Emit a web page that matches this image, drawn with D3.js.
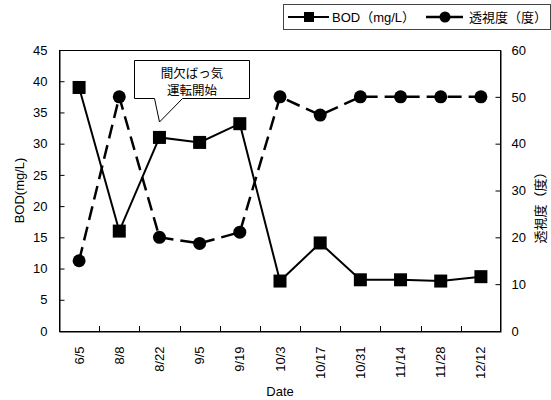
<!DOCTYPE html>
<html><head><meta charset="utf-8">
<script src="https://cdn.jsdelivr.net/npm/d3@7"></script>
<style>
body{margin:0;background:#fff;}
svg{display:block;}
text{font-family:"Liberation Sans","Noto Sans CJK JP",sans-serif;fill:#000;}
</style></head><body>
<svg id="c" width="551" height="400"></svg>
<script>
const dates = ["6/5","8/8","8/22","9/5","9/19","10/3","10/17","10/31","11/14","11/28","12/12"];
const bod = [39, 16, 31, 30.2, 33.2, 8, 14.1, 8.2, 8.2, 8.0, 8.7];
const transparency = [15, 50, 20, 18.7, 21.1, 50, 46.1, 50, 50, 50, 50];
const leftTicks = [0,5,10,15,20,25,30,35,40,45];
const rightTicks = [0,10,20,30,40,50,60];
const calloutLines = ["間欠ばっ気","運転開始"];

const svg = d3.select("#c");
const L=59, R=501, T=50, B=331;
const x = d3.scaleBand().domain(dates).range([L,R]).padding(0);
const yL = d3.scaleLinear().domain([0,45]).range([B,T]);
const yR = d3.scaleLinear().domain([0,60]).range([B,T]);
const cx = d => x(d)+x.bandwidth()/2;

// plot frame
svg.append("rect").attr("x",L+0.5).attr("y",T+0.5).attr("width",R-L-1).attr("height",B-T)
  .attr("fill","none").attr("stroke","#000").attr("stroke-width",1);

// left axis
const gl = svg.append("g").attr("transform",`translate(${L+0.5},0)`)
  .call(d3.axisLeft(yL).tickValues(leftTicks).tickSize(-5).tickPadding(12));
gl.select(".domain").attr("stroke","#000");
gl.selectAll("text").attr("font-size",13);
// right axis
const gr = svg.append("g").attr("transform",`translate(${R-0.5},0)`)
  .call(d3.axisRight(yR).tickValues(rightTicks).tickSize(-5).tickPadding(11));
gr.selectAll("text").attr("font-size",13);
// bottom axis
const gb = svg.append("g").attr("transform",`translate(0,${B+0.5})`)
  .call(d3.axisBottom(x).tickSize(0).tickSizeOuter(0));
gb.select(".domain").attr("stroke","#000");
gb.selectAll("text").attr("font-size",13)
  .attr("transform","rotate(-90)").attr("text-anchor","end")
  .attr("x",-15).attr("y",0).attr("dy","0.35em");
// inner tick marks between categories
svg.append("g").selectAll("line").data(dates.slice(1)).join("line")
  .attr("x1",d=>Math.round(x(d))+0.5).attr("x2",d=>Math.round(x(d))+0.5)
  .attr("y1",B-5).attr("y2",B).attr("stroke","#000");

// axis titles
svg.append("text").attr("transform",`translate(24,${(T+B)/2}) rotate(-90)`)
  .attr("text-anchor","middle").attr("font-size",13).text("BOD(mg/L)");
svg.append("text").attr("transform",`translate(545,${(T+B)/2+14}) rotate(-90)`)
  .attr("text-anchor","middle").attr("font-size",13).text("透視度（度）");
svg.append("text").attr("x",(L+R)/2).attr("y",396).attr("text-anchor","middle")
  .attr("font-size",13).text("Date");

// transparency dashed line + circles
svg.append("path").datum(dates.map((d,i)=>[cx(d),yR(transparency[i])]))
  .attr("d",d3.line()).attr("fill","none").attr("stroke","#000")
  .attr("stroke-width",2.5).attr("stroke-dasharray","14,7");
svg.append("g").selectAll("circle").data(dates).join("circle")
  .attr("cx",d=>cx(d)).attr("cy",(d,i)=>yR(transparency[i])).attr("r",6.5).attr("fill","#000");

// BOD solid line + squares
svg.append("path").datum(dates.map((d,i)=>[cx(d),yL(bod[i])]))
  .attr("d",d3.line()).attr("fill","none").attr("stroke","#000").attr("stroke-width",2);
svg.append("g").selectAll("rect").data(dates).join("rect")
  .attr("x",d=>cx(d)-6.5).attr("y",(d,i)=>yL(bod[i])-6.5).attr("width",13).attr("height",13).attr("fill","#000");

// callout
const bx0=134.5, bx1=249.5, by0=60.5, by1=98.5;
svg.append("path").attr("d",
  `M${bx0},${by0} L${bx1},${by0} L${bx1},${by1} L182.5,${by1} L159.5,122 L154.5,${by1} L${bx0},${by1} Z`)
  .attr("fill","#fff").attr("stroke","#000").attr("stroke-width",1);
svg.append("g").selectAll("text").data(calloutLines).join("text")
  .attr("x",(bx0+bx1)/2).attr("y",(d,i)=>78+i*17).attr("text-anchor","middle")
  .attr("font-size",12.5).text(d=>d);

// legend
const lg = svg.append("g");
lg.append("rect").attr("x",283.5).attr("y",4.5).attr("width",267).attr("height",25)
  .attr("fill","#fff").attr("stroke","#444").attr("stroke-width",1);
lg.append("line").attr("x1",288).attr("x2",329).attr("y1",17).attr("y2",17).attr("stroke","#000").attr("stroke-width",2);
lg.append("rect").attr("x",304).attr("y",12).attr("width",10).attr("height",10).attr("fill","#000");
lg.append("text").attr("x",332).attr("y",22).attr("font-size",13).text("BOD（mg/L）");
lg.append("line").attr("x1",426).attr("x2",463).attr("y1",17).attr("y2",17).attr("stroke","#000").attr("stroke-width",2.5);
lg.append("circle").attr("cx",445).attr("cy",17).attr("r",5.5).attr("fill","#000");
lg.append("text").attr("x",469).attr("y",22).attr("font-size",13).text("透視度（度）");
</script></body></html>
